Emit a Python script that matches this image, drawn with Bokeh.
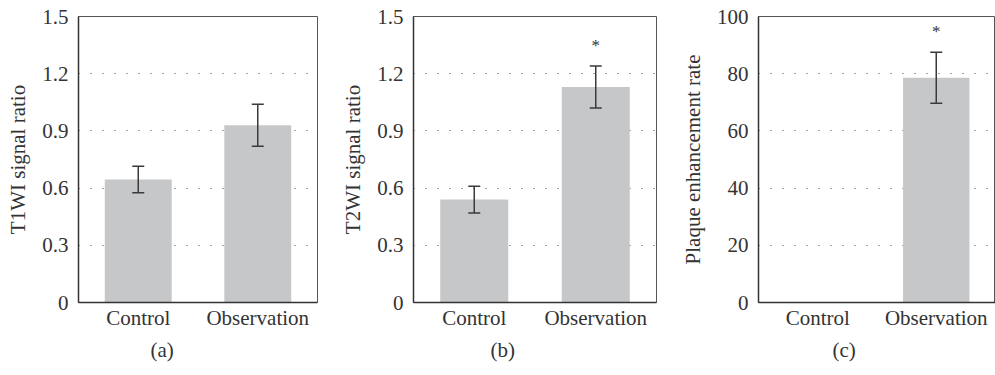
from bokeh.plotting import figure
from bokeh.models import ColumnDataSource, Whisker, TeeHead, FixedTicker, Title, FactorRange, Range1d
from bokeh.layouts import row
from bokeh.embed import file_html
from bokeh.resources import INLINE
from bokeh.core.properties import value

# ---- data ----
categories = ["Control", "Observation"]

t1_mean = [0.645, 0.93]
t1_err = [0.07, 0.11]

t2_mean = [0.54, 1.13]
t2_err = [0.07, 0.11]

plaque_mean = [0.0, 78.6]
plaque_err = [float("nan"), 8.9]

sig_t1 = [False, False]
sig_t2 = [False, True]
sig_plaque = [False, True]

ticks_ratio = [0, 0.3, 0.6, 0.9, 1.2, 1.5]
ticks_rate = [0, 20, 40, 60, 80, 100]

FONT = "Liberation Serif"
BAR = "#c6c7c9"
DARK = "#3a3a3a"


def panel(ylabel, means, errs, sig, ticks, ymax, width, bl, br, caption, cap_off):
    p = figure(x_range=FactorRange(*categories), y_range=Range1d(0, ymax),
               width=width, height=375, output_backend="svg", toolbar_location=None,
               min_border_left=bl, min_border_right=br, min_border_top=16, min_border_bottom=73)
    p.background_fill_color = "white"
    p.border_fill_color = "white"
    p.outline_line_color = "#555555"
    p.outline_line_width = 1

    p.vbar(x=categories, top=means, width=0.56, fill_color=BAR, line_color=None)

    lower = [m - e for m, e in zip(means, errs)]
    upper = [m + e for m, e in zip(means, errs)]
    src = ColumnDataSource(dict(x=categories, lower=lower, upper=upper))
    w = Whisker(base="x", lower="lower", upper="upper", source=src,
                line_color=DARK, line_width=1.5, level="overlay",
                upper_head=TeeHead(size=12, line_color=DARK, line_width=1.5),
                lower_head=TeeHead(size=12, line_color=DARK, line_width=1.5))
    p.add_layout(w)

    sx = [c for c, s in zip(categories, sig) if s]
    sy = [u for u, s in zip(upper, sig) if s]
    if sx:
        p.text(x=sx, y=sy, text=["*"] * len(sx), text_font=value(FONT),
               text_font_size="17px", text_align="center", text_baseline="middle",
               y_offset=-21, text_color="#333333")

    p.yaxis.ticker = FixedTicker(ticks=ticks)
    p.yaxis.major_label_overrides = {0: "0"}
    p.yaxis.axis_label = ylabel
    p.yaxis.axis_label_text_font = FONT
    p.yaxis.axis_label_text_font_style = "normal"
    p.yaxis.axis_label_text_font_size = "21px"
    p.yaxis.axis_label_text_color = "#333333"
    p.yaxis.axis_label_standoff = 9

    for ax in (p.xaxis[0], p.yaxis[0]):
        ax.major_label_text_font = FONT
        ax.major_label_text_font_size = "21px"
        ax.major_label_text_color = "#333333"
        ax.axis_line_color = "#333333"
        ax.axis_line_width = 1.5
        ax.major_tick_line_color = None
        ax.minor_tick_line_color = None
        ax.major_tick_out = 0
        ax.major_tick_in = 0
    p.yaxis.major_label_standoff = 10
    p.xaxis.major_label_standoff = 3

    p.xgrid.grid_line_color = None
    p.ygrid.ticker = FixedTicker(ticks=ticks)
    p.ygrid.grid_line_color = "#444444"
    p.ygrid.grid_line_dash = "1 11"
    p.ygrid.grid_line_width = 1.2

    p.add_layout(Title(text=caption, align="left", offset=cap_off, text_font=FONT,
                       text_font_size="21px", text_font_style="normal",
                       text_color="#333333", standoff=6), "below")
    return p


pa = panel("T1WI signal ratio", t1_mean, t1_err, sig_t1, ticks_ratio, 1.5, 330, 78, 13, "(a)", 72)
pb = panel("T2WI signal ratio", t2_mean, t2_err, sig_t2, ticks_ratio, 1.5, 330, 83, 4, "(b)", 77)
pc = panel("Plaque enhancement rate", plaque_mean, plaque_err, sig_plaque, ticks_rate, 100, 335, 98, 0, "(c)", 74)

layout = row(pa, pb, pc)
open("out.html", "w").write(file_html(layout, INLINE))
